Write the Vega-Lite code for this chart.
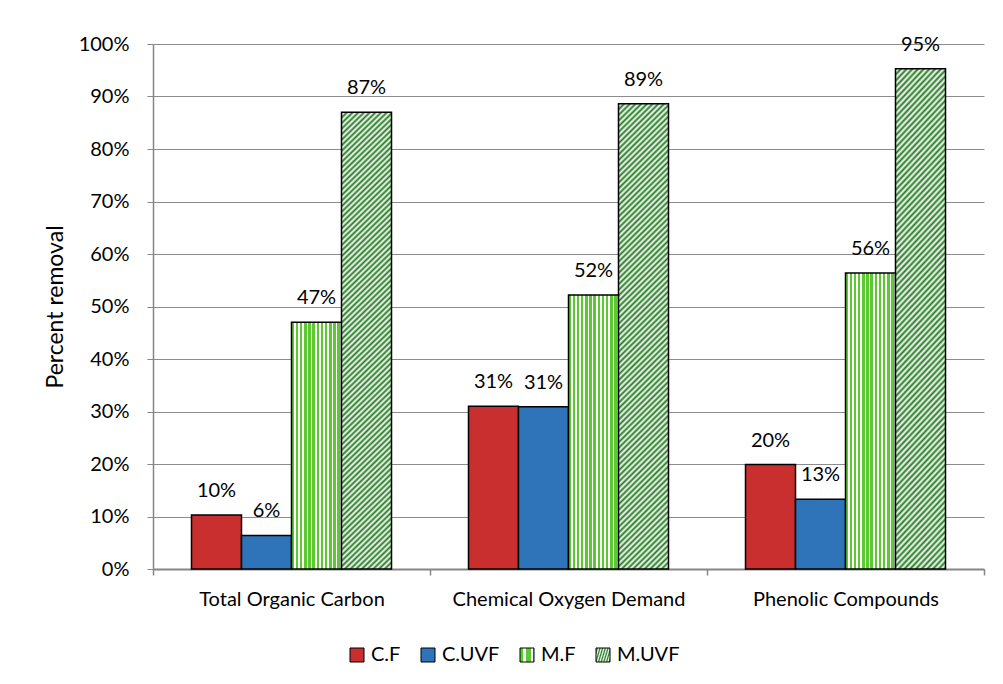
{
  "$schema": "https://vega.github.io/schema/vega-lite/v6.json",
  "width": 831,
  "height": 525,
  "autosize": {"type": "none"},
  "padding": {"left": 153, "top": 44, "right": 19, "bottom": 115},
  "background": "white",
  "params": [
    {
      "name": "mfFill",
      "value": {
        "gradient": "linear", "x1": 0, "y1": 0, "x2": 1, "y2": 0,
        "stops": [
          {"offset": 0, "color": "#5cc832"}, {"offset": 0.05, "color": "#5cc832"}, {"offset": 0.05, "color": "#ffffff"}, {"offset": 0.0833, "color": "#ffffff"},
          {"offset": 0.0833, "color": "#5cc832"}, {"offset": 0.1333, "color": "#5cc832"}, {"offset": 0.1333, "color": "#ffffff"}, {"offset": 0.1667, "color": "#ffffff"},
          {"offset": 0.1667, "color": "#5cc832"}, {"offset": 0.2167, "color": "#5cc832"}, {"offset": 0.2167, "color": "#ffffff"}, {"offset": 0.25, "color": "#ffffff"},
          {"offset": 0.25, "color": "#5cc832"}, {"offset": 0.3, "color": "#5cc832"}, {"offset": 0.3, "color": "#ffffff"}, {"offset": 0.3333, "color": "#ffffff"},
          {"offset": 0.3333, "color": "#5cc832"}, {"offset": 0.3833, "color": "#5cc832"}, {"offset": 0.3833, "color": "#ffffff"}, {"offset": 0.4167, "color": "#ffffff"},
          {"offset": 0.4167, "color": "#5cc832"}, {"offset": 0.4667, "color": "#5cc832"}, {"offset": 0.4667, "color": "#ffffff"}, {"offset": 0.5, "color": "#ffffff"},
          {"offset": 0.5, "color": "#5cc832"}, {"offset": 0.55, "color": "#5cc832"}, {"offset": 0.55, "color": "#ffffff"}, {"offset": 0.5833, "color": "#ffffff"},
          {"offset": 0.5833, "color": "#5cc832"}, {"offset": 0.6333, "color": "#5cc832"}, {"offset": 0.6333, "color": "#ffffff"}, {"offset": 0.6667, "color": "#ffffff"},
          {"offset": 0.6667, "color": "#5cc832"}, {"offset": 0.7167, "color": "#5cc832"}, {"offset": 0.7167, "color": "#ffffff"}, {"offset": 0.75, "color": "#ffffff"},
          {"offset": 0.75, "color": "#5cc832"}, {"offset": 0.8, "color": "#5cc832"}, {"offset": 0.8, "color": "#ffffff"}, {"offset": 0.8333, "color": "#ffffff"},
          {"offset": 0.8333, "color": "#5cc832"}, {"offset": 0.8833, "color": "#5cc832"}, {"offset": 0.8833, "color": "#ffffff"}, {"offset": 0.9167, "color": "#ffffff"},
          {"offset": 0.9167, "color": "#5cc832"}, {"offset": 0.9667, "color": "#5cc832"}, {"offset": 0.9667, "color": "#ffffff"}, {"offset": 1, "color": "#ffffff"}
        ]
      }
    },
    {
      "name": "muvfFill",
      "value": {
        "gradient": "linear", "x1": 0, "y1": 0, "x2": 0.1276, "y2": 1.1995,
        "stops": [
          {"offset": 0, "color": "#217a1e"}, {"offset": 0.005, "color": "#ffffff"}, {"offset": 0.01, "color": "#217a1e"}, {"offset": 0.015, "color": "#ffffff"},
          {"offset": 0.02, "color": "#217a1e"}, {"offset": 0.025, "color": "#ffffff"}, {"offset": 0.03, "color": "#217a1e"}, {"offset": 0.035, "color": "#ffffff"},
          {"offset": 0.04, "color": "#217a1e"}, {"offset": 0.045, "color": "#ffffff"}, {"offset": 0.05, "color": "#217a1e"}, {"offset": 0.055, "color": "#ffffff"},
          {"offset": 0.06, "color": "#217a1e"}, {"offset": 0.065, "color": "#ffffff"}, {"offset": 0.07, "color": "#217a1e"}, {"offset": 0.075, "color": "#ffffff"},
          {"offset": 0.08, "color": "#217a1e"}, {"offset": 0.085, "color": "#ffffff"}, {"offset": 0.09, "color": "#217a1e"}, {"offset": 0.095, "color": "#ffffff"},
          {"offset": 0.1, "color": "#217a1e"}, {"offset": 0.105, "color": "#ffffff"}, {"offset": 0.11, "color": "#217a1e"}, {"offset": 0.115, "color": "#ffffff"},
          {"offset": 0.12, "color": "#217a1e"}, {"offset": 0.125, "color": "#ffffff"}, {"offset": 0.13, "color": "#217a1e"}, {"offset": 0.135, "color": "#ffffff"},
          {"offset": 0.14, "color": "#217a1e"}, {"offset": 0.145, "color": "#ffffff"}, {"offset": 0.15, "color": "#217a1e"}, {"offset": 0.155, "color": "#ffffff"},
          {"offset": 0.16, "color": "#217a1e"}, {"offset": 0.165, "color": "#ffffff"}, {"offset": 0.17, "color": "#217a1e"}, {"offset": 0.175, "color": "#ffffff"},
          {"offset": 0.18, "color": "#217a1e"}, {"offset": 0.185, "color": "#ffffff"}, {"offset": 0.19, "color": "#217a1e"}, {"offset": 0.195, "color": "#ffffff"},
          {"offset": 0.2, "color": "#217a1e"}, {"offset": 0.205, "color": "#ffffff"}, {"offset": 0.21, "color": "#217a1e"}, {"offset": 0.215, "color": "#ffffff"},
          {"offset": 0.22, "color": "#217a1e"}, {"offset": 0.225, "color": "#ffffff"}, {"offset": 0.23, "color": "#217a1e"}, {"offset": 0.235, "color": "#ffffff"},
          {"offset": 0.24, "color": "#217a1e"}, {"offset": 0.245, "color": "#ffffff"}, {"offset": 0.25, "color": "#217a1e"}, {"offset": 0.255, "color": "#ffffff"},
          {"offset": 0.26, "color": "#217a1e"}, {"offset": 0.265, "color": "#ffffff"}, {"offset": 0.27, "color": "#217a1e"}, {"offset": 0.275, "color": "#ffffff"},
          {"offset": 0.28, "color": "#217a1e"}, {"offset": 0.285, "color": "#ffffff"}, {"offset": 0.29, "color": "#217a1e"}, {"offset": 0.295, "color": "#ffffff"},
          {"offset": 0.3, "color": "#217a1e"}, {"offset": 0.305, "color": "#ffffff"}, {"offset": 0.31, "color": "#217a1e"}, {"offset": 0.315, "color": "#ffffff"},
          {"offset": 0.32, "color": "#217a1e"}, {"offset": 0.325, "color": "#ffffff"}, {"offset": 0.33, "color": "#217a1e"}, {"offset": 0.335, "color": "#ffffff"},
          {"offset": 0.34, "color": "#217a1e"}, {"offset": 0.345, "color": "#ffffff"}, {"offset": 0.35, "color": "#217a1e"}, {"offset": 0.355, "color": "#ffffff"},
          {"offset": 0.36, "color": "#217a1e"}, {"offset": 0.365, "color": "#ffffff"}, {"offset": 0.37, "color": "#217a1e"}, {"offset": 0.375, "color": "#ffffff"},
          {"offset": 0.38, "color": "#217a1e"}, {"offset": 0.385, "color": "#ffffff"}, {"offset": 0.39, "color": "#217a1e"}, {"offset": 0.395, "color": "#ffffff"},
          {"offset": 0.4, "color": "#217a1e"}, {"offset": 0.405, "color": "#ffffff"}, {"offset": 0.41, "color": "#217a1e"}, {"offset": 0.415, "color": "#ffffff"},
          {"offset": 0.42, "color": "#217a1e"}, {"offset": 0.425, "color": "#ffffff"}, {"offset": 0.43, "color": "#217a1e"}, {"offset": 0.435, "color": "#ffffff"},
          {"offset": 0.44, "color": "#217a1e"}, {"offset": 0.445, "color": "#ffffff"}, {"offset": 0.45, "color": "#217a1e"}, {"offset": 0.455, "color": "#ffffff"},
          {"offset": 0.46, "color": "#217a1e"}, {"offset": 0.465, "color": "#ffffff"}, {"offset": 0.47, "color": "#217a1e"}, {"offset": 0.475, "color": "#ffffff"},
          {"offset": 0.48, "color": "#217a1e"}, {"offset": 0.485, "color": "#ffffff"}, {"offset": 0.49, "color": "#217a1e"}, {"offset": 0.495, "color": "#ffffff"},
          {"offset": 0.5, "color": "#217a1e"}, {"offset": 0.505, "color": "#ffffff"}, {"offset": 0.51, "color": "#217a1e"}, {"offset": 0.515, "color": "#ffffff"},
          {"offset": 0.52, "color": "#217a1e"}, {"offset": 0.525, "color": "#ffffff"}, {"offset": 0.53, "color": "#217a1e"}, {"offset": 0.535, "color": "#ffffff"},
          {"offset": 0.54, "color": "#217a1e"}, {"offset": 0.545, "color": "#ffffff"}, {"offset": 0.55, "color": "#217a1e"}, {"offset": 0.555, "color": "#ffffff"},
          {"offset": 0.56, "color": "#217a1e"}, {"offset": 0.565, "color": "#ffffff"}, {"offset": 0.57, "color": "#217a1e"}, {"offset": 0.575, "color": "#ffffff"},
          {"offset": 0.58, "color": "#217a1e"}, {"offset": 0.585, "color": "#ffffff"}, {"offset": 0.59, "color": "#217a1e"}, {"offset": 0.595, "color": "#ffffff"},
          {"offset": 0.6, "color": "#217a1e"}, {"offset": 0.605, "color": "#ffffff"}, {"offset": 0.61, "color": "#217a1e"}, {"offset": 0.615, "color": "#ffffff"},
          {"offset": 0.62, "color": "#217a1e"}, {"offset": 0.625, "color": "#ffffff"}, {"offset": 0.63, "color": "#217a1e"}, {"offset": 0.635, "color": "#ffffff"},
          {"offset": 0.64, "color": "#217a1e"}, {"offset": 0.645, "color": "#ffffff"}, {"offset": 0.65, "color": "#217a1e"}, {"offset": 0.655, "color": "#ffffff"},
          {"offset": 0.66, "color": "#217a1e"}, {"offset": 0.665, "color": "#ffffff"}, {"offset": 0.67, "color": "#217a1e"}, {"offset": 0.675, "color": "#ffffff"},
          {"offset": 0.68, "color": "#217a1e"}, {"offset": 0.685, "color": "#ffffff"}, {"offset": 0.69, "color": "#217a1e"}, {"offset": 0.695, "color": "#ffffff"},
          {"offset": 0.7, "color": "#217a1e"}, {"offset": 0.705, "color": "#ffffff"}, {"offset": 0.71, "color": "#217a1e"}, {"offset": 0.715, "color": "#ffffff"},
          {"offset": 0.72, "color": "#217a1e"}, {"offset": 0.725, "color": "#ffffff"}, {"offset": 0.73, "color": "#217a1e"}, {"offset": 0.735, "color": "#ffffff"},
          {"offset": 0.74, "color": "#217a1e"}, {"offset": 0.745, "color": "#ffffff"}, {"offset": 0.75, "color": "#217a1e"}, {"offset": 0.755, "color": "#ffffff"},
          {"offset": 0.76, "color": "#217a1e"}, {"offset": 0.765, "color": "#ffffff"}, {"offset": 0.77, "color": "#217a1e"}, {"offset": 0.775, "color": "#ffffff"},
          {"offset": 0.78, "color": "#217a1e"}, {"offset": 0.785, "color": "#ffffff"}, {"offset": 0.79, "color": "#217a1e"}, {"offset": 0.795, "color": "#ffffff"},
          {"offset": 0.8, "color": "#217a1e"}, {"offset": 0.805, "color": "#ffffff"}, {"offset": 0.81, "color": "#217a1e"}, {"offset": 0.815, "color": "#ffffff"},
          {"offset": 0.82, "color": "#217a1e"}, {"offset": 0.825, "color": "#ffffff"}, {"offset": 0.83, "color": "#217a1e"}, {"offset": 0.835, "color": "#ffffff"},
          {"offset": 0.84, "color": "#217a1e"}, {"offset": 0.845, "color": "#ffffff"}, {"offset": 0.85, "color": "#217a1e"}, {"offset": 0.855, "color": "#ffffff"},
          {"offset": 0.86, "color": "#217a1e"}, {"offset": 0.865, "color": "#ffffff"}, {"offset": 0.87, "color": "#217a1e"}, {"offset": 0.875, "color": "#ffffff"},
          {"offset": 0.88, "color": "#217a1e"}, {"offset": 0.885, "color": "#ffffff"}, {"offset": 0.89, "color": "#217a1e"}, {"offset": 0.895, "color": "#ffffff"},
          {"offset": 0.9, "color": "#217a1e"}, {"offset": 0.905, "color": "#ffffff"}, {"offset": 0.91, "color": "#217a1e"}, {"offset": 0.915, "color": "#ffffff"},
          {"offset": 0.92, "color": "#217a1e"}
        ]
      }
    }
  ],
  "data": {
    "values": [
      {"parameter": "Total Organic Carbon", "process": "C.F", "removal": 0.103},
      {"parameter": "Total Organic Carbon", "process": "C.UVF", "removal": 0.064},
      {"parameter": "Total Organic Carbon", "process": "M.F", "removal": 0.47},
      {"parameter": "Total Organic Carbon", "process": "M.UVF", "removal": 0.87},
      {"parameter": "Chemical Oxygen Demand", "process": "C.F", "removal": 0.31},
      {"parameter": "Chemical Oxygen Demand", "process": "C.UVF", "removal": 0.309},
      {"parameter": "Chemical Oxygen Demand", "process": "M.F", "removal": 0.522},
      {"parameter": "Chemical Oxygen Demand", "process": "M.UVF", "removal": 0.886},
      {"parameter": "Phenolic Compounds", "process": "C.F", "removal": 0.199},
      {"parameter": "Phenolic Compounds", "process": "C.UVF", "removal": 0.133},
      {"parameter": "Phenolic Compounds", "process": "M.F", "removal": 0.564},
      {"parameter": "Phenolic Compounds", "process": "M.UVF", "removal": 0.953}
    ]
  },
  "encoding": {
    "x": {
      "field": "parameter",
      "type": "nominal",
      "sort": ["Total Organic Carbon", "Chemical Oxygen Demand", "Phenolic Compounds"],
      "scale": {"paddingInner": 0, "paddingOuter": 0},
      "axis": {
        "title": null,
        "labelAngle": 0,
        "labelLimit": 0,
        "tickBand": "extent",
        "grid": false,
        "domainColor": "#868686",
        "domainWidth": 2,
        "tickColor": "#868686",
        "tickWidth": 1.5,
        "tickSize": 6,
        "labelPadding": 14,
        "labelFont": "Lato",
        "labelFontSize": 20,
        "labelColor": "#000000"
      }
    },
    "xOffset": {
      "field": "process",
      "type": "nominal",
      "sort": ["C.F", "C.UVF", "M.F", "M.UVF"],
      "scale": {"paddingInner": 0, "paddingOuter": 0.77}
    },
    "y": {
      "field": "removal",
      "type": "quantitative",
      "scale": {"domain": [0, 1], "nice": false},
      "axis": {
        "title": "Percent removal",
        "values": [0, 0.1, 0.2, 0.3, 0.4, 0.5, 0.6, 0.7, 0.8, 0.9, 1],
        "format": ".0%",
        "grid": true,
        "gridColor": "#8c8c8c",
        "gridWidth": 1,
        "domainColor": "#868686",
        "domainWidth": 1.5,
        "tickColor": "#868686",
        "tickSize": 6,
        "labelPadding": 18,
        "labelFont": "Lato",
        "labelFontSize": 20,
        "labelColor": "#000000",
        "titleFont": "Lato",
        "titleFontSize": 23,
        "titleFontWeight": "normal",
        "titleColor": "#000000",
        "titlePadding": 11
      }
    }
  },
  "layer": [
    {
      "mark": {"type": "bar", "stroke": "#000000", "strokeWidth": 1.5},
      "encoding": {
        "color": {
          "field": "process",
          "type": "nominal",
          "scale": {
            "domain": ["C.F", "C.UVF", "M.F", "M.UVF"],
            "range": ["#c92f2f", "#2f74b8", {"expr": "mfFill"}, {"expr": "muvfFill"}]
          },
          "legend": {
            "title": null,
            "orient": "none",
            "direction": "horizontal",
            "legendX": 194,
            "legendY": 601,
            "padding": 0,
            "symbolType": "square",
            "symbolSize": 196,
            "symbolStrokeColor": "#000000",
            "symbolStrokeWidth": 1,
            "labelFont": "Lato",
            "labelFontSize": 20,
            "labelColor": "#000000",
            "labelOffset": 4,
            "columnPadding": 17
          }
        }
      }
    },
    {
      "mark": {"type": "text", "baseline": "alphabetic", "dy": -18, "font": "Lato", "fontSize": 20, "color": "#000000"},
      "encoding": {
        "text": {"field": "removal", "type": "quantitative", "format": ".0%"}
      }
    }
  ],
  "config": {
    "view": {"stroke": null}
  }
}
